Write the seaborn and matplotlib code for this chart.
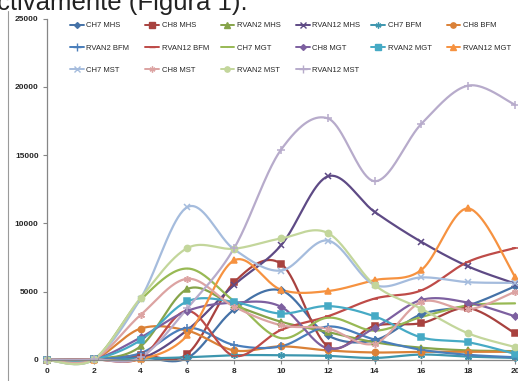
import numpy as np
import pandas as pd
import matplotlib
matplotlib.use("Agg")
import matplotlib.pyplot as plt
from matplotlib.lines import Line2D
import seaborn as sns

days = [0, 2, 4, 6, 8, 10, 12, 14, 16, 18, 20]

ch7_mhs = [0, 40, 200, 150, 3700, 5100, 1800, 1450, 3350, 4000, 5400]
ch8_mhs = [0, 40, 350, 450, 5700, 7050, 1000, 2500, 2700, 3800, 1950]
rvan2_mhs = [0, 40, 1000, 5200, 4000, 2800, 2050, 1300, 900, 700, 650]
rvan12_mhs = [0, 40, 100, 2200, 5500, 8400, 13450, 10850, 8650, 6850, 5600]
ch7_bfm = [0, 30, 100, 200, 350, 350, 300, 150, 400, 250, 150]
ch8_bfm = [0, 40, 2300, 2150, 700, 1000, 700, 550, 600, 600, 600]
rvan2_bfm = [0, 40, 500, 2350, 1100, 1000, 2450, 1500, 750, 380, 200]
rvan12_bfm = [0, 40, 150, 3600, 300, 2200, 3200, 4500, 5100, 7200, 8200]
ch7_mgt = [0, 40, 4400, 6700, 4300, 1600, 3100, 2150, 3150, 4000, 4150]
ch8_mgt = [0, 40, 1650, 3600, 4200, 3900, 850, 2350, 4400, 4200, 3200]
rvan2_mgt = [0, 40, 1450, 4300, 4250, 3400, 3950, 3200, 1650, 1300, 450]
rvan12_mgt = [0, 30, 50, 1800, 7300, 5150, 5050, 5850, 6600, 11100, 6100]
ch7_mst = [0, 40, 4500, 11200, 8100, 6550, 8750, 5500, 6050, 5700, 5650]
ch8_mst = [0, 40, 3300, 5950, 3900, 2550, 2300, 1200, 4250, 3700, 5000]
rvan2_mst = [0, 40, 4550, 8200, 8150, 8900, 9300, 5500, 3750, 1950, 950]
rvan12_mst = [0, 40, 200, 3800, 8200, 15400, 17700, 13100, 17300, 20100, 18700]

labels = ["CH7 MHS", "CH8 MHS", "RVAN2 MHS", "RVAN12 MHS", "CH7 BFM", "CH8 BFM",
          "RVAN2 BFM", "RVAN12 BFM", "CH7 MGT", "CH8 MGT", "RVAN2 MGT", "RVAN12 MGT",
          "CH7 MST", "CH8 MST", "RVAN2 MST", "RVAN12 MST"]
series = [ch7_mhs, ch8_mhs, rvan2_mhs, rvan12_mhs, ch7_bfm, ch8_bfm,
          rvan2_bfm, rvan12_bfm, ch7_mgt, ch8_mgt, rvan2_mgt, rvan12_mgt,
          ch7_mst, ch8_mst, rvan2_mst, rvan12_mst]
colors = ["#4572A7", "#A8423F", "#86A44A", "#5E4A85", "#3D96AE", "#DA8137",
          "#4A7EBB", "#BE4B48", "#98B954", "#7D60A0", "#46AAC5", "#F69240",
          "#A5BCDD", "#DCA3A2", "#C3D69B", "#B7ABCB"]
asterisk = (6, 2, 0)
markers = ["D", "s", "^", "x", asterisk, "o", "+", "_", "_", "D", "s", "^",
           "x", asterisk, "o", "+"]
msizes = [3.5, 4.5, 4.5, 4.5, 5, 4.5, 6, 5, 0.1, 3.5, 4.5, 4.5, 4.5, 5, 4.5, 6]


def smooth(x, y, n=40):
    pts = np.column_stack([x, y]).astype(float)
    P = np.vstack([pts[0], pts, pts[-1]])
    t = np.linspace(0, 1, n, endpoint=False)[:, None]
    out = []
    for i in range(1, len(P) - 2):
        p0, p1, p2, p3 = P[i - 1], P[i], P[i + 1], P[i + 2]
        c1 = p1 + (p2 - p0) / 6
        c2 = p2 - (p3 - p1) / 6
        seg = (1 - t) ** 3 * p1 + 3 * (1 - t) ** 2 * t * c1 + 3 * (1 - t) * t ** 2 * c2 + t ** 3 * p2
        out.append(seg)
    out.append(pts[-1][None, :])
    return np.vstack(out)


frames = []
for lab, vals in zip(labels, series):
    s = smooth(days, vals)
    frames.append(pd.DataFrame({"x": s[:, 0], "y": s[:, 1], "series": lab,
                                "order": np.arange(len(s))}))
curves = pd.concat(frames, ignore_index=True)
points = pd.DataFrame({"x": np.tile(days, len(labels)),
                       "y": np.concatenate(series),
                       "series": np.repeat(labels, len(days))})

sns.set_style("white")
plt.rcParams["font.family"] = ["Liberation Sans", "DejaVu Sans"]

fig = plt.figure(figsize=(5.18, 3.81), dpi=100)
ax = fig.add_axes([47 / 518, 1 - 360 / 381, (515 - 47) / 518, (360 - 18.7) / 381])

palette = dict(zip(labels, colors))
sns.lineplot(data=curves, x="x", y="y", hue="series", units="series", estimator=None,
             sort=False, palette=palette, hue_order=labels, linewidth=1.6,
             legend=False, ax=ax)
for line in ax.get_lines():
    line.set_clip_on(False)

for lab, col, mk, ms in zip(labels, colors, markers, msizes):
    sub = points[points["series"] == lab]
    ax.plot(sub["x"], sub["y"], linestyle="none", marker=mk, color=col,
            markersize=ms, markeredgewidth=1.1, clip_on=False)

ax.set_xlim(0, 20)
ax.set_ylim(0, 25000)
ax.set_xticks(range(0, 21, 2))
ax.set_yticks(range(0, 25001, 5000))
ax.set_xlabel("")
ax.set_ylabel("")
for lab in ax.get_xticklabels() + ax.get_yticklabels():
    lab.set_fontweight("bold")
ax.tick_params(axis="both", labelsize=6, length=3, width=0.8, color="#868686",
               direction="out", pad=3, left=True, bottom=True)
for side in ["top", "right"]:
    ax.spines[side].set_visible(False)
for side in ["left", "bottom"]:
    ax.spines[side].set_color("#868686")
    ax.spines[side].set_linewidth(0.9)

# legend: 6 columns filled row by row, evenly spaced like the original
handles = [Line2D([], [], color=c, marker=m, markersize=ms * 0.85, linewidth=1.4,
                  markeredgewidth=1.0) for c, m, ms in zip(colors, markers, msizes)]
for c in range(6):
    idx = [r * 6 + c for r in range(3) if r * 6 + c < len(labels)]
    leg = fig.legend([handles[i] for i in idx], [labels[i] for i in idx],
                     loc="upper left", bbox_to_anchor=((70 + 75.3 * c) / 518, 1 - 22 / 381),
                     frameon=False, fontsize=5.5, handlelength=1.8,
                     handletextpad=0.35, labelspacing=1.95, borderpad=0,
                     borderaxespad=0)

# chart area border (left) and the clipped document text above the chart
fig.add_artist(Line2D([8.3 / 518, 8.3 / 518], [0, 1 - 11 / 381], color="#9a9a9a",
                      linewidth=0.8, transform=fig.transFigure))
fig.text(-3 / 518, 1 - 10 / 381, "ctivamente (Figura 1).", fontsize=18.5,
         ha="left", va="baseline", color="#222222")

fig.savefig("out.png", dpi=100)
